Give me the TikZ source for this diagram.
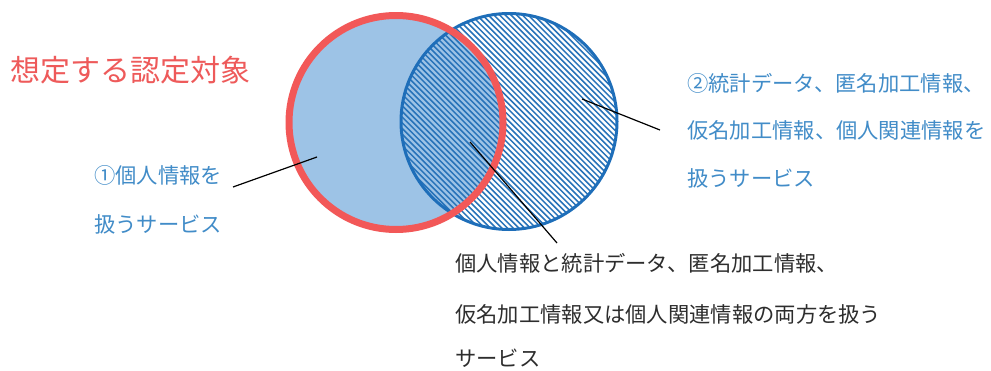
\documentclass[tikz,border=0pt]{standalone}
\usepackage{fontspec}
\newfontfamily\jp{Noto Sans CJK JP}
\definecolor{fillblue}{RGB}{157,195,230}
\definecolor{lineblue}{RGB}{30,110,185}
\definecolor{hatchblue}{RGB}{40,115,185}
\definecolor{ringred}{RGB}{242,88,88}
\definecolor{txtblue}{RGB}{65,140,200}
\definecolor{txtred}{RGB}{238,90,90}
\definecolor{txtgray}{RGB}{45,45,45}
\begin{document}
\begin{tikzpicture}[x=1pt,y=-1pt,
  txt/.style={anchor=base west, inner sep=0pt, font=\jp\fontsize{21.3}{25}\selectfont},
  hatch/.style={hatchblue, line width=1.5pt},
  leader/.style={black, line width=1.2pt}]
\useasboundingbox (0,0) rectangle (991,370);
\fill[white] (0,0) rectangle (991,370);
\coordinate (rc) at (396,122.5);
\coordinate (bc) at (509,121.5);
% red circle fill
\fill[fillblue] (rc) circle (107);
% hatch in blue circle
\begin{scope}
  \clip (bc) circle (108);
  \foreach \i in {-262,-256.3,...,262}
    \draw[hatch] (509+\i-130,121.5-130) -- ++(260,260);
\end{scope}
\draw[lineblue, line width=3pt] (bc) circle (108);
\draw[ringred, line width=7pt] (rc) circle (107);
% title
\node[txt, text=txtred, font=\jp\fontsize{30}{34}\selectfont] (title) at (10,81.4) {想定する認定対象};
% left label
\node[txt, text=txtblue] (la) at (94,183) {①個人情報を};
\node[txt, text=txtblue] (lb) at (94,232) {扱うサービス};
% right label
\node[txt, text=txtblue] (ra) at (687,91) {②統計データ、匿名加工情報、};
\node[txt, text=txtblue] (rb) at (687,138) {仮名加工情報、個人関連情報を};
\node[txt, text=txtblue] (rc2) at (687,186) {扱うサービス};
% bottom label
\node[txt, text=txtgray] (ba) at (455,271) {個人情報と統計データ、匿名加工情報、};
\node[txt, text=txtgray] (bb) at (455,322) {仮名加工情報又は個人関連情報の両方を扱う};
\node[txt, text=txtgray] (bcx) at (455,366) {サービス};
% leader lines
\coordinate (lstart) at (233,187);
\coordinate (lend) at (317,157);
\coordinate (rstart) at (660,130);
\coordinate (rend) at (582,99);
\coordinate (bstart) at (557,243);
\coordinate (bend) at (470,142);
\draw[leader] (lstart) -- (lend);
\draw[leader] (rstart) -- (rend);
\draw[leader] (bstart) -- (bend);
\end{tikzpicture}
\end{document}
